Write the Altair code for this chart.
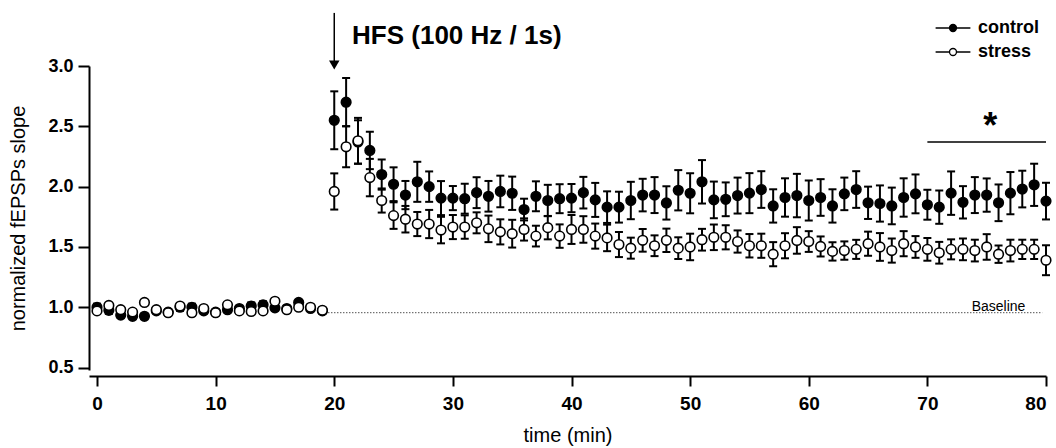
import altair as alt
import pandas as pd

# ---------------- data ----------------
groups = ["control", "stress"]
times = list(range(0, 81))

control_mean = [
    1.00, 0.975, 0.935, 0.925, 0.925, 0.97, 0.96, 1.00, 1.00, 0.97,
    0.96, 0.98, 0.99, 1.01, 1.02, 0.995, 0.99, 1.04, 0.99, 0.97,
    2.55, 2.70, 2.37, 2.30, 2.10, 2.02, 1.93, 2.04, 2.00, 1.905,
    1.905, 1.90, 1.95, 1.92, 1.96, 1.945, 1.81, 1.92, 1.885, 1.90,
    1.905, 1.95, 1.89, 1.83, 1.83, 1.885, 1.93, 1.93, 1.865, 1.97,
    1.945, 2.04, 1.89, 1.895, 1.926, 1.946, 1.976, 1.84, 1.91, 1.926,
    1.885, 1.91, 1.84, 1.94, 1.976, 1.866, 1.86, 1.84, 1.91, 1.94,
    1.85, 1.83, 1.946, 1.87, 1.93, 1.93, 1.866, 1.946, 1.98, 2.015,
    1.88,
]
control_sem = [
    0.03, 0.03, 0.02, 0.02, 0.02, 0.02, 0.02, 0.03, 0.03, 0.02,
    0.02, 0.02, 0.02, 0.03, 0.03, 0.02, 0.02, 0.02, 0.02, 0.02,
    0.24, 0.20, 0.18, 0.155, 0.125, 0.14, 0.117, 0.166, 0.126, 0.141,
    0.10, 0.124, 0.128, 0.127, 0.131, 0.138, 0.09, 0.124, 0.13, 0.12,
    0.117, 0.131, 0.141, 0.131, 0.128, 0.155, 0.135, 0.149, 0.138, 0.167,
    0.166, 0.18, 0.152, 0.14, 0.149, 0.166, 0.152, 0.138, 0.159, 0.18,
    0.166, 0.152, 0.138, 0.135, 0.152, 0.134, 0.15, 0.152, 0.159, 0.161,
    0.124, 0.138, 0.18, 0.134, 0.149, 0.138, 0.152, 0.175, 0.152, 0.175,
    0.152,
]
stress_mean = [
    0.97, 1.015, 0.98, 0.96, 1.04, 0.98, 0.955, 1.01, 0.955, 0.99,
    0.955, 1.02, 0.97, 0.965, 0.97, 1.05, 0.98, 1.00, 1.00, 0.975,
    1.96, 2.33, 2.38, 2.075, 1.885, 1.76, 1.73, 1.69, 1.69, 1.64,
    1.665, 1.665, 1.70, 1.65, 1.625, 1.61, 1.645, 1.59, 1.66, 1.59,
    1.645, 1.645, 1.59, 1.575, 1.52, 1.49, 1.555, 1.51, 1.555, 1.49,
    1.50, 1.56, 1.58, 1.58, 1.545, 1.51, 1.51, 1.44, 1.51, 1.554,
    1.545, 1.504, 1.463, 1.47, 1.48, 1.527, 1.50, 1.47, 1.527, 1.50,
    1.48, 1.452, 1.48, 1.48, 1.47, 1.50, 1.44, 1.47, 1.48, 1.48,
    1.39,
]
stress_sem = [
    0.02, 0.02, 0.02, 0.02, 0.02, 0.02, 0.02, 0.02, 0.02, 0.02,
    0.02, 0.02, 0.02, 0.02, 0.02, 0.02, 0.02, 0.02, 0.02, 0.02,
    0.15, 0.17, 0.19, 0.155, 0.10, 0.11, 0.11, 0.10, 0.117, 0.11,
    0.10, 0.097, 0.087, 0.11, 0.104, 0.115, 0.092, 0.086, 0.097, 0.097,
    0.12, 0.11, 0.104, 0.11, 0.104, 0.087, 0.094, 0.086, 0.097, 0.09,
    0.11, 0.09, 0.106, 0.10, 0.092, 0.097, 0.10, 0.10, 0.104, 0.11,
    0.086, 0.083, 0.076, 0.076, 0.079, 0.10, 0.115, 0.10, 0.104, 0.09,
    0.094, 0.09, 0.083, 0.09, 0.09, 0.106, 0.072, 0.09, 0.08, 0.08,
    0.124,
]

x_ticks = [0, 10, 20, 30, 40, 50, 60, 70, 80]
y_ticks = [0.5, 1.0, 1.5, 2.0, 2.5, 3.0]

# annotations
baseline_x = [19.5, 79.7]
baseline_y = 0.955
baseline_label = "Baseline"
baseline_label_x = 76.0
sig_x = [70, 80]
sig_y = 2.37
sig_star_x = 75.3
sig_star_y = 2.40
hfs_x = 20
hfs_arrow_y = [3.44, 3.0]
hfs_head_y = 3.008
hfs_label = "HFS (100 Hz / 1s)"
hfs_label_x = 21.5
hfs_label_y = 3.25

FONT = "Liberation Sans"

# ---------------- tables ----------------
rows = []
for g, means, sems in [("control", control_mean, control_sem),
                       ("stress", stress_mean, stress_sem)]:
    for t, m, s in zip(times, means, sems):
        rows.append({"time": t, "group": g, "mean": m, "lo": m - s, "hi": m + s})
df = pd.DataFrame(rows)

xscale = alt.Scale(domain=[-0.675, 80], nice=False, zero=False)
yscale = alt.Scale(domain=[0.48, 3.0], nice=False, zero=False)

x_axis = alt.Axis(
    values=x_ticks, format="d", offset=6, tickSize=10, tickWidth=2,
    domainWidth=2, domainColor="black", tickColor="black", grid=False,
    labelFont=FONT, labelFontSize=19, labelFontWeight="bold", labelColor="black",
    labelPadding=8, title="time (min)", titleFont=FONT, titleFontSize=20,
    titleFontWeight="normal", titleColor="black", titleY=59, titleBaseline="middle",
)
y_axis = alt.Axis(
    values=y_ticks, format=".1f", tickSize=11, tickWidth=2,
    domainWidth=2, domainColor="black", tickColor="black", grid=False,
    labelFont=FONT, labelFontSize=18, labelFontWeight="bold", labelColor="black",
    labelPadding=5, title="normalized fEPSPs slope", titleFont=FONT,
    titleFontSize=20, titleFontWeight="normal", titleColor="black",
    titleX=-71, titleY=152, titleAngle=-90, titleBaseline="middle", titleAlign="center",
)

X = alt.X("time:Q", scale=xscale, axis=x_axis)
Y = alt.Y("mean:Q", scale=yscale, axis=y_axis)

legend_path = ("M-2.9,0L-0.58,0M0.58,0L2.9,0"
               "M-0.58,0A0.58,0.58,0,1,1,0.58,0A0.58,0.58,0,1,1,-0.58,0Z")
fill_enc = alt.Fill(
    "group:N",
    scale=alt.Scale(domain=groups, range=["black", "white"]),
    legend=alt.Legend(
        title=None, orient="none", legendX=855, legendY=-47,
        symbolType=legend_path, symbolSize=144, symbolStrokeColor="black",
        symbolStrokeWidth=1.3, symbolOpacity=1, labelFont=FONT,
        labelFontSize=18, labelFontWeight="bold", labelColor="black",
        labelOffset=16, rowPadding=6, padding=0,
    ),
)

base = alt.Chart(df)
layers = []

# baseline dotted line
bl_df = pd.DataFrame({"time": baseline_x, "mean": [baseline_y] * 2})
layers.append(
    alt.Chart(bl_df).mark_line(color="black", strokeWidth=1, strokeDash=[1, 2])
    .encode(x=X, y=Y)
)
layers.append(
    alt.Chart(pd.DataFrame({"time": [baseline_label_x], "mean": [baseline_y],
                            "label": [baseline_label]}))
    .mark_text(font=FONT, fontSize=14, color="black", align="center",
               baseline="alphabetic", dy=-2)
    .encode(x=X, y=Y, text="label:N")
)

for g in groups:
    sub = base.transform_filter(alt.datum.group == g)
    layers.append(
        sub.mark_rule(color="black", strokeWidth=2).encode(
            x=X, y=alt.Y("lo:Q", scale=yscale, axis=y_axis), y2="hi:Q")
    )
    layers.append(
        sub.mark_tick(color="black", orient="horizontal", size=8, thickness=2, opacity=1)
        .encode(x=X, y=alt.Y("lo:Q", scale=yscale, axis=y_axis))
    )
    layers.append(
        sub.mark_tick(color="black", orient="horizontal", size=8, thickness=2, opacity=1)
        .encode(x=X, y=alt.Y("hi:Q", scale=yscale, axis=y_axis))
    )
    layers.append(
        sub.mark_circle(size=92, stroke="black", strokeWidth=1.6, opacity=1)
        .encode(x=X, y=Y, fill=fill_enc)
    )

# significance bar and star
sig_df = pd.DataFrame({"time": sig_x, "mean": [sig_y] * 2})
layers.append(
    alt.Chart(sig_df).mark_line(color="black", strokeWidth=1.5).encode(x=X, y=Y)
)
layers.append(
    alt.Chart(pd.DataFrame({"time": [sig_star_x], "mean": [sig_star_y], "label": ["*"]}))
    .mark_text(font=FONT, fontSize=36, fontWeight="bold", color="black",
               align="center", baseline="alphabetic")
    .encode(x=X, y=Y, text="label:N")
)

# HFS arrow and label
arrow_df = pd.DataFrame({"time": [hfs_x], "y1": [hfs_arrow_y[0]], "y2": [hfs_arrow_y[1]]})
layers.append(
    alt.Chart(arrow_df).mark_rule(color="black", strokeWidth=1.5, clip=False)
    .encode(x=X, y=alt.Y("y1:Q", scale=yscale, axis=y_axis), y2="y2:Q")
)
layers.append(
    alt.Chart(pd.DataFrame({"time": [hfs_x], "mean": [hfs_head_y]}))
    .mark_point(shape="triangle-down", size=110, filled=True, color="black", opacity=1)
    .encode(x=X, y=Y)
)
layers.append(
    alt.Chart(pd.DataFrame({"time": [hfs_label_x], "mean": [hfs_label_y], "label": [hfs_label]}))
    .mark_text(font=FONT, fontSize=26, fontWeight="bold", color="black",
               align="left", baseline="middle")
    .encode(x=X, y=Y, text="label:N")
)

chart = (
    alt.layer(*layers)
    .properties(
        width=957, height=304,
        autosize=alt.AutoSizeParams(type="none"),
        padding={"left": 89, "top": 66, "right": 10, "bottom": 78},
        background="white",
    )
    .configure_view(stroke=None)
)

chart.save("out.html", embed_options={"renderer": "svg", "actions": False})
